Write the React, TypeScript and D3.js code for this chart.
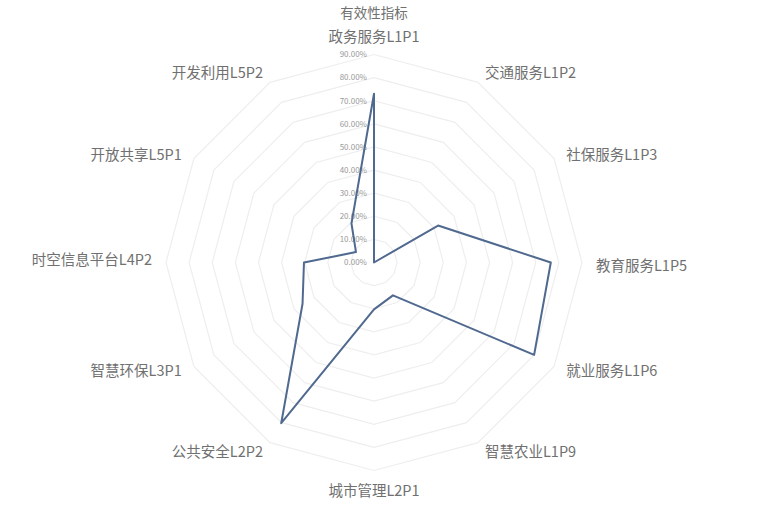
import React, { useEffect, useRef } from 'react';
import * as d3 from 'd3';

const categories = [
  '政务服务L1P1', '交通服务L1P2', '社保服务L1P3', '教育服务L1P5',
  '就业服务L1P6', '智慧农业L1P9', '城市管理L2P1', '公共安全L2P2',
  '智慧环保L3P1', '时空信息平台L4P2', '开放共享L5P1', '开发利用L5P2',
];
const values = [0.73, 0.0, 0.32, 0.765, 0.80, 0.164, 0.203, 0.803, 0.357, 0.303, 0.09, 0.195];
const ticks = [0, 0.1, 0.2, 0.3, 0.4, 0.5, 0.6, 0.7, 0.8, 0.9];
const title = '有效性指标';

const RadarChart: React.FC = () => {
  const svgRef = useRef<SVGSVGElement>(null);

  useEffect(() => {
    const width = 761;
    const height = 513;
    const cx = 374;
    const cy = 262.5;
    const font = '"Noto Sans CJK SC", "Noto Sans", sans-serif';

    const svg = d3.select(svgRef.current)
      .attr('width', width)
      .attr('height', height);
    svg.selectAll('*').remove();

    svg.append('rect').attr('width', width).attr('height', height).attr('fill', '#fff');

    const r = d3.scaleLinear().domain([0, 0.9]).range([0, 208]);
    const angle = d3.scalePoint<number>()
      .domain(d3.range(categories.length + 1))
      .range([0, 2 * Math.PI]);

    const g = svg.append('g').attr('transform', `translate(${cx},${cy})`);

    // grid rings
    const ring = d3.lineRadial<number>()
      .angle((_, i) => angle(i) as number)
      .radius(d => r(d))
      .curve(d3.curveLinearClosed);

    g.selectAll('path.grid')
      .data(ticks.slice(1))
      .enter()
      .append('path')
      .attr('class', 'grid')
      .attr('d', t => ring(categories.map(() => t)))
      .attr('fill', 'none')
      .attr('stroke', '#eeeeee')
      .attr('stroke-width', 1.2);

    // tick labels
    g.selectAll('text.tick')
      .data(ticks)
      .enter()
      .append('text')
      .attr('class', 'tick')
      .attr('x', -7)
      .attr('y', t => -r(t))
      .attr('dy', '0.35em')
      .attr('text-anchor', 'end')
      .attr('font-family', font)
      .attr('font-size', 8)
      .attr('fill', '#999999')
      .text(t => d3.format('.2%')(t));

    // data polygon
    g.append('path')
      .attr('d', ring(values))
      .attr('fill', 'none')
      .attr('stroke', '#50698f')
      .attr('stroke-width', 2)
      .attr('stroke-linejoin', 'round');

    // category labels
    const labelR = 222;
    g.selectAll('text.cat')
      .data(categories)
      .enter()
      .append('text')
      .attr('class', 'cat')
      .attr('x', (_, i) => {
        const a = angle(i) as number;
        return labelR * Math.sin(a);
      })
      .attr('y', (_, i) => {
        const a = angle(i) as number;
        const y = -labelR * Math.cos(a);
        if (i === 0) return y - 4;
        if (i === 6) return y + 6;
        return y + (Math.cos(a) > 0 ? 3 : -3);
      })
      .attr('dy', '0.35em')
      .attr('text-anchor', (_, i) => {
        const s = Math.sin(angle(i) as number);
        return Math.abs(s) < 0.01 ? 'middle' : s > 0 ? 'start' : 'end';
      })
      .attr('font-family', font)
      .attr('font-size', 14.5)
      .attr('fill', '#707070')
      .text(d => d);

    svg.append('text')
      .attr('x', cx)
      .attr('y', 13)
      .attr('dy', '0.35em')
      .attr('text-anchor', 'middle')
      .attr('font-family', font)
      .attr('font-size', 13.5)
      .attr('fill', '#707070')
      .text(title);
  }, []);

  return <svg ref={svgRef} style={{ position: 'absolute', left: 0, top: 0 }}></svg>;
};

export default function App() {
  return <RadarChart />;
}
